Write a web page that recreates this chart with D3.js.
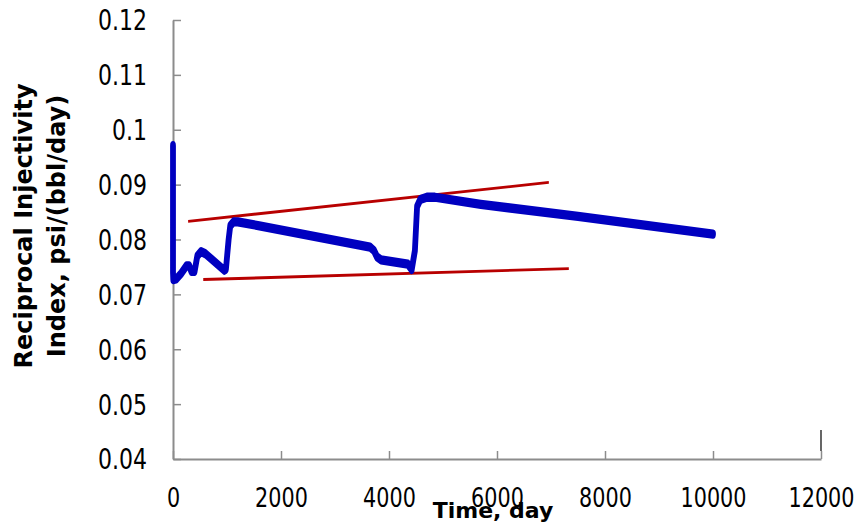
<!DOCTYPE html>
<html>
<head>
<meta charset="utf-8">
<script src="https://cdn.jsdelivr.net/npm/d3@7"></script>
<style>
  html, body { margin: 0; padding: 0; background: #fff; }
  svg { display: block; }
</style>
</head>
<body>
<svg id="chart" width="858" height="528"></svg>
<script>
// ---- data ----
const timeDays = [0, 0, 5, 60, 150, 250, 300, 340, 400, 450, 520, 600, 950, 980, 1030, 1060, 1120, 1200, 1600,
                  3650, 3720, 3780, 3850, 4350, 4420, 4480, 4520, 4580, 4700, 4850, 5700, 7500, 10000];
const rii      = [0.0971, 0.0740, 0.0727, 0.0728, 0.0738, 0.0752, 0.0752, 0.0742, 0.0742, 0.0770, 0.0778, 0.0774,
                  0.0744, 0.0746, 0.0800, 0.0825, 0.0832, 0.0832, 0.0825,
                  0.0786, 0.0780, 0.0768, 0.0763, 0.0755, 0.0745, 0.0780, 0.0860, 0.0873, 0.0877, 0.0877,
                  0.0864, 0.0842, 0.0810];
const upperTrendTime = [280, 6960];
const upperTrendVal  = [0.0833, 0.0904];
const lowerTrendTime = [560, 7330];
const lowerTrendVal  = [0.0727, 0.0747];
const xTickValues = [0, 2000, 4000, 6000, 8000, 10000, 12000];
const xTickLabels = ["0", "2000", "4000", "6000", "8000", "10000", "12000"];
const yTickValues = [0.04, 0.05, 0.06, 0.07, 0.08, 0.09, 0.10, 0.11, 0.12];
const yTickLabels = ["0.04", "0.05", "0.06", "0.07", "0.08", "0.09", "0.1", "0.11", "0.12"];
const xTitle = "Time, day";
const yTitleLines = ["Reciprocal Injectivity", "Index, psi/(bbl/day)"];

// ---- layout ----
const plotLeft = 173, plotRight = 821, plotTop = 20, plotBottom = 459;
const axisColor = "#8c8c8c";
const svg = d3.select("#chart");
svg.append("rect").attr("width", 858).attr("height", 528).attr("fill", "#fff");

const x = d3.scaleLinear().domain([0, 12000]).range([plotLeft, plotRight]);
const y = d3.scaleLinear().domain([0.04, 0.12]).range([plotBottom, plotTop]);

// ---- axes ----
const yAxis = d3.axisLeft(y)
  .tickValues(yTickValues)
  .tickFormat((d, i) => yTickLabels[i])
  .tickSizeInner(-8).tickSizeOuter(0).tickPadding(26);
const gy = svg.append("g").attr("transform", `translate(${plotLeft},0)`).call(yAxis);
gy.select(".domain").attr("stroke", axisColor).attr("stroke-width", 2);
gy.selectAll(".tick line").attr("stroke", axisColor).attr("stroke-width", 1.5);
gy.selectAll(".tick text")
  .attr("font-family", "DejaVu Sans").attr("font-size", 22).attr("fill", "#000")
  .attr("x", 0).attr("dy", "0.36em")
  .attr("transform", "translate(-26,0) scale(1,1.25)");

const xAxis = d3.axisBottom(x)
  .tickValues(xTickValues)
  .tickFormat((d, i) => xTickLabels[i])
  .tickSizeInner(-8).tickSizeOuter(0).tickPadding(0);
const gx = svg.append("g").attr("transform", `translate(0,${plotBottom})`).call(xAxis);
gx.select(".domain").attr("stroke", axisColor).attr("stroke-width", 2);
gx.selectAll(".tick line").attr("stroke", axisColor).attr("stroke-width", 1.5);
gx.selectAll(".tick text")
  .attr("font-family", "DejaVu Sans").attr("font-size", 20.75).attr("fill", "#000")
  .attr("y", 0).attr("dy", "0.36em")
  .attr("transform", "translate(0,38) scale(1,1.32)");

// right edge short black line
svg.append("line")
  .attr("x1", x(12000)).attr("x2", x(12000))
  .attr("y1", 430).attr("y2", plotBottom - 8)
  .attr("stroke", "#000").attr("stroke-width", 1.2);

// ---- series (drawn in a vertically stretched group) ----
const k = 1.6;
const yIn = d3.scaleLinear().domain([0.04, 0.12]).range([(plotBottom - plotTop) / k, 0]);
const gPlot = svg.append("g").attr("transform", `translate(0,${plotTop}) scale(1,${k})`);

const line = d3.line().x(d => x(d[0])).y(d => yIn(d[1]));

gPlot.append("path")
  .datum(upperTrendTime.map((t, i) => [t, upperTrendVal[i]]))
  .attr("d", line).attr("fill", "none").attr("stroke", "#b80000").attr("stroke-width", 1.8);
gPlot.append("path")
  .datum(lowerTrendTime.map((t, i) => [t, lowerTrendVal[i]]))
  .attr("d", line).attr("fill", "none").attr("stroke", "#b80000").attr("stroke-width", 1.8);

gPlot.append("path")
  .datum(timeDays.map((t, i) => [t, rii[i]]))
  .attr("d", line).attr("fill", "none").attr("stroke", "#0000c0")
  .attr("stroke-width", 5.8).attr("stroke-linejoin", "round").attr("stroke-linecap", "round");

// ---- titles ----
svg.append("text")
  .attr("x", 493).attr("y", 518).attr("text-anchor", "middle")
  .attr("font-family", "DejaVu Sans").attr("font-weight", "bold").attr("font-size", 22)
  .text(xTitle);

const yt = svg.append("g").attr("transform", "translate(0,226) rotate(-90)");
yt.selectAll("text").data(yTitleLines).join("text")
  .attr("x", 0).attr("y", (d, i) => [32, 65][i]).attr("text-anchor", "middle")
  .attr("font-family", "DejaVu Sans").attr("font-weight", "bold").attr("font-size", 24)
  .text(d => d);
</script>
</body>
</html>
